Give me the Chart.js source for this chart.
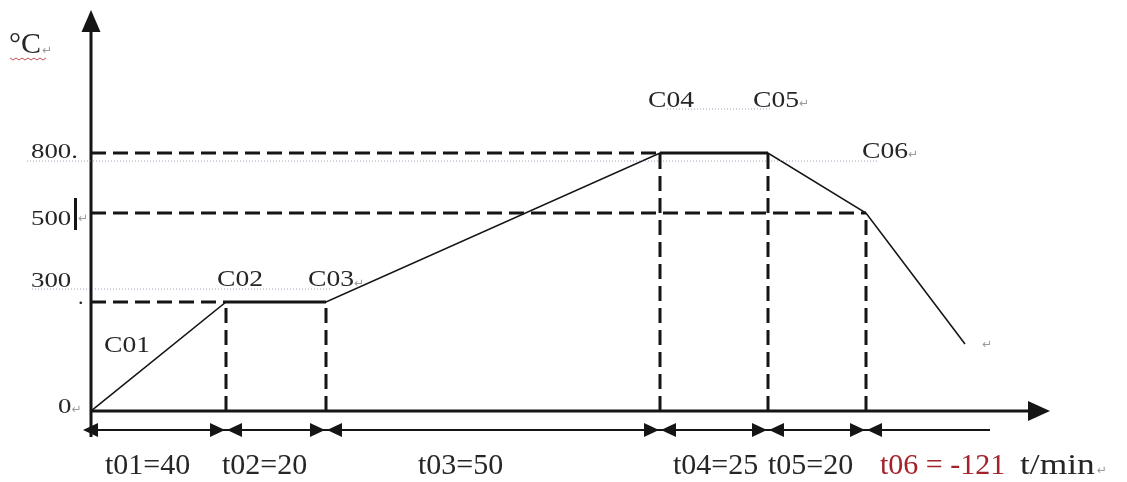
<!DOCTYPE html>
<html lang="zh">
<head>
<meta charset="UTF-8">
<title>Temperature profile</title>
<script src="https://cdn.jsdelivr.net/npm/chart.js"></script>
<style>
  body { margin: 0; background: #fff; }
  canvas { display: block; }
</style>
</head>
<body>
<canvas id="profile" width="1127" height="482"></canvas>
<script>
// step points of the curve, in diagram units (time axis is not to scale in the drawing)
const stepNames = ['C01', 'C02', 'C03', 'C04', 'C05', 'C06'];
const stepX = [0, 135, 235, 569, 677, 775, 874];
const stepY = [0, 109, 109, 258, 258, 198, 67];
const holdSegments = [[1, 2], [3, 4]];
const tempTicks = ['0', '300', '500', '800'];
const durations = ['t01=40', 't02=20', 't03=50', 't04=25', 't05=20'];
const coolLabel = 't06 = -121';
const rateUnit = 't/min';

const pt = i => ({ x: stepX[i], y: stepY[i] });
const ink = '#151515';
const dash = [15, 7];

const datasets = [];
// dashed guides: horizontal to the y axis, vertical down to the time axis
[1, 3, 5].forEach(i => datasets.push({ data: [{ x: 0, y: stepY[i] }, pt(i)], borderDash: dash, borderWidth: 3 }));
[1, 2, 3, 4, 5].forEach(i => datasets.push({ data: [{ x: stepX[i], y: 0 }, pt(i)], borderDash: dash, borderWidth: 3 }));
// faint dotted underlines left in the original document
const dotted = { borderDash: [1, 2], borderWidth: 1, borderColor: 'rgba(150,120,160,0.75)', clip: false };
datasets.push({ ...dotted, data: [{ x: -64, y: 250 }, { x: 786, y: 250 }] });
datasets.push({ ...dotted, data: [{ x: -59, y: 122 }, { x: 239, y: 122 }] });
datasets.push({ ...dotted, data: [{ x: 576, y: 302 }, { x: 679, y: 302 }] });
// the profile itself
datasets.push({ data: stepX.map((x, i) => pt(i)), borderWidth: 1.6 });
holdSegments.forEach(([a, b]) => datasets.push({ data: [pt(a), pt(b)], borderWidth: 3 }));

function sText(ctx, t, x, y, color, sx) {
  sx = sx || 1;
  ctx.save();
  ctx.translate(x, y);
  ctx.scale(sx, 1);
  ctx.fillStyle = color || '#262626';
  ctx.fillText(t, 0, 0);
  const w = ctx.measureText(t).width * sx;
  ctx.restore();
  return x + w;
}
function ret(ctx, x, y) {
  ctx.save();
  ctx.font = '12px "DejaVu Sans"';
  ctx.fillStyle = '#9a9a9a';
  ctx.fillText('\u21b5', x, y);
  ctx.restore();
}
function arrowHead(ctx, tx, ty, dx, dy, len, half) {
  // dx,dy unit direction of the arrow
  const bx = tx - dx * len, by = ty - dy * len;
  ctx.beginPath();
  ctx.moveTo(tx, ty);
  ctx.lineTo(bx - dy * half, by + dx * half);
  ctx.lineTo(bx + dy * half, by - dx * half);
  ctx.closePath();
  ctx.fill();
}

const drawing = {
  id: 'drawing',
  beforeDatasetsDraw(chart) {
    const { ctx, chartArea: a, scales: { x } } = chart;
    ctx.save();
    ctx.strokeStyle = ink;
    ctx.fillStyle = ink;
    ctx.lineWidth = 3;
    // axes
    ctx.beginPath();
    ctx.moveTo(a.left, a.bottom + 26);
    ctx.lineTo(a.left, a.top + 18);
    ctx.moveTo(a.left, a.bottom);
    ctx.lineTo(a.right - 18, a.bottom);
    ctx.stroke();
    arrowHead(ctx, a.left, a.top, 0, -1, 22, 9.5);
    arrowHead(ctx, a.right, a.bottom, 1, 0, 22, 10);
    // dimension line for the durations
    const dy = a.bottom + 19;
    ctx.lineWidth = 2;
    ctx.beginPath();
    ctx.moveTo(a.left - 6, dy);
    ctx.lineTo(x.getPixelForValue(stepX[5]) + 124, dy);
    ctx.stroke();
    arrowHead(ctx, a.left - 8, dy, -1, 0, 15, 7);
    for (let i = 1; i <= 5; i++) {
      const b = x.getPixelForValue(stepX[i]);
      arrowHead(ctx, b - 1, dy, 1, 0, 15, 7);
      arrowHead(ctx, b + 1, dy, -1, 0, 15, 7);
    }
    ctx.restore();
  },
  afterDraw(chart) {
    const { ctx } = chart;
    ctx.save();
    ctx.textBaseline = 'alphabetic';
    // unit label with its red spell-check squiggle
    ctx.font = '30px "Liberation Serif"';
    let e = sText(ctx, '\u00b0C', 9, 53);
    ret(ctx, e + 1, 54);
    ctx.strokeStyle = '#c0505a';
    ctx.lineWidth = 1;
    ctx.beginPath();
    for (let k = 0; k <= 12; k++) ctx.lineTo(10 + k * 3, 58 + (k % 2 ? 2 : 0));
    ctx.stroke();
    // temperature marks
    ctx.font = '22px "Liberation Serif"';
    sText(ctx, tempTicks[3] + '.', 31, 158, null, 1.22);
    sText(ctx, tempTicks[2], 31, 225, null, 1.22);
    ctx.fillStyle = ink;
    ctx.fillRect(74, 198, 3, 32);
    ret(ctx, 78, 222);
    sText(ctx, tempTicks[1], 31, 287, null, 1.22);
    sText(ctx, '.', 78, 304);
    e = sText(ctx, tempTicks[0], 58, 413, null, 1.22);
    ret(ctx, e, 413);
    // step names
    ctx.font = '23px "Liberation Serif"';
    const sn = 1.2;
    sText(ctx, stepNames[0], 104, 352, null, sn);
    sText(ctx, stepNames[1], 217, 286, null, sn);
    e = sText(ctx, stepNames[2], 308, 286, null, sn);
    ret(ctx, e, 287);
    sText(ctx, stepNames[3], 648, 107, null, sn);
    e = sText(ctx, stepNames[4], 753, 107, null, sn);
    ret(ctx, e, 107);
    e = sText(ctx, stepNames[5], 862, 158, null, sn);
    ret(ctx, e, 158);
    ret(ctx, 982, 348);
    // durations
    ctx.font = '30px "Liberation Serif"';
    const dx = [105, 222, 418, 673, 768];
    durations.forEach((t, i) => sText(ctx, t, dx[i], 474));
    sText(ctx, coolLabel, 880, 474, '#a3222b');
    e = sText(ctx, rateUnit, 1020, 474, '#262626', 1.18);
    ret(ctx, e + 2, 474);
    ctx.restore();
  }
};

new Chart(document.getElementById('profile'), {
  type: 'line',
  data: { datasets },
  options: {
    responsive: false,
    animation: false,
    layout: { padding: { left: 91, right: 77, top: 10, bottom: 71 } },
    datasets: { line: { borderColor: ink, pointRadius: 0, fill: false, tension: 0 } },
    scales: {
      x: { type: 'linear', min: 0, max: 959, display: false },
      y: { type: 'linear', min: 0, max: 401, display: false }
    },
    plugins: { legend: { display: false }, tooltip: { enabled: false } }
  },
  plugins: [drawing]
});
</script>
</body>
</html>
